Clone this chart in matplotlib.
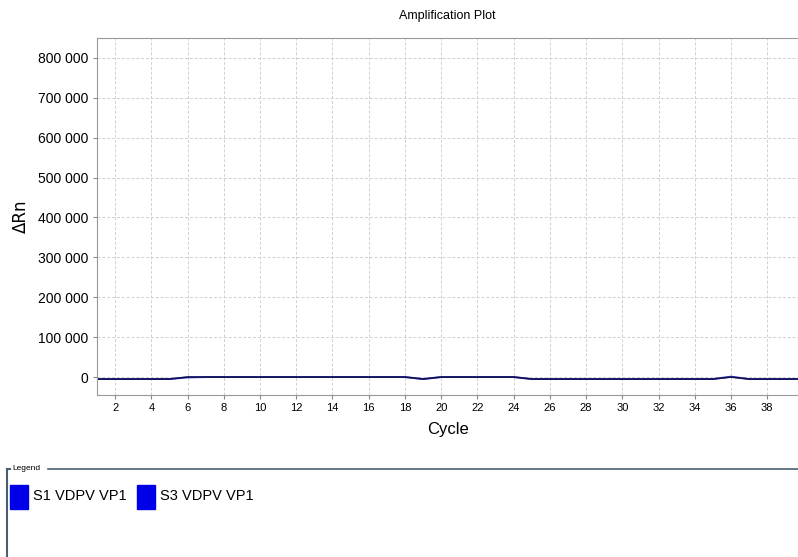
import matplotlib
matplotlib.use("Agg")
import matplotlib.pyplot as plt
from matplotlib.ticker import FuncFormatter, MultipleLocator
from matplotlib.patches import Rectangle
from matplotlib.lines import Line2D

# Data
cycles = list(range(1, 41))
s1_values = [-5000] * 5 + [0] * 13 + [-5000] + [0] * 5 + [-5000] * 11 + [0] + [-5000] * 4
s3_values = [-5000] * 5 + [-1000] + [0] * 12 + [-5000] + [0] * 5 + [-5000] * 11 + [1000] + [-5000] * 4
series_names = ["S1 VDPV VP1", "S3 VDPV VP1"]

plt.rcParams["font.family"] = ["Liberation Sans", "DejaVu Sans"]

fig = plt.figure(figsize=(7.98, 5.57), dpi=100)
ax = fig.add_axes([97 / 798, 1 - 395 / 557, 1 - 97 / 798, (395 - 38) / 557])

ax.plot(cycles, s3_values, color="#4a4aff", lw=1.4)
ax.plot(cycles, s1_values, color="#10104a", lw=1.2)

ax.set_xlim(1, 39.7)
ax.set_ylim(-45000, 850000)
ax.xaxis.set_major_locator(MultipleLocator(2))
ax.yaxis.set_major_locator(MultipleLocator(100000))
ax.yaxis.set_major_formatter(FuncFormatter(lambda v, p: "{:,}".format(int(v)).replace(",", " ")))
ax.grid(True, color="#d0d0d0", ls=(0, (3, 2)), lw=0.7)
ax.tick_params(length=3, width=0.8, color="#888888", pad=3)
for lab in ax.get_yticklabels():
    lab.set_fontsize(10)
for lab in ax.get_xticklabels():
    lab.set_fontsize(8)
for side in ["left", "top", "bottom"]:
    ax.spines[side].set_color("#999999")
ax.spines["right"].set_visible(False)

ax.set_title("Amplification Plot", fontsize=9, pad=14)
ax.set_xlabel("Cycle", fontsize=12, labelpad=6)
ax.set_ylabel("ΔRn", fontsize=12, labelpad=6, family=["DejaVu Sans"])

# legend panel at the bottom
W, H = 798, 557
fc = "#4a6070"
fig.add_artist(Line2D([7 / W, 7 / W], [0, 1 - 469 / H], color=fc, lw=1.5))
fig.add_artist(Line2D([7 / W, 10 / W], [1 - 469 / H] * 2, color=fc, lw=1.5))
fig.add_artist(Line2D([48 / W, 1], [1 - 469 / H] * 2, color=fc, lw=1.2))
fig.text(12 / W, 1 - 469 / H, "Legend", fontsize=6, va="center")

xs = [10, 137]
for x0, name in zip(xs, series_names):
    fig.add_artist(Rectangle((x0 / W, 1 - 509 / H), 18 / W, 24 / H, color="#0000e8",
                             transform=fig.transFigure))
    fig.text((x0 + 23) / W, 1 - 496 / H, name, fontsize=10.5, va="center")

fig.savefig("out.png", dpi=100)
